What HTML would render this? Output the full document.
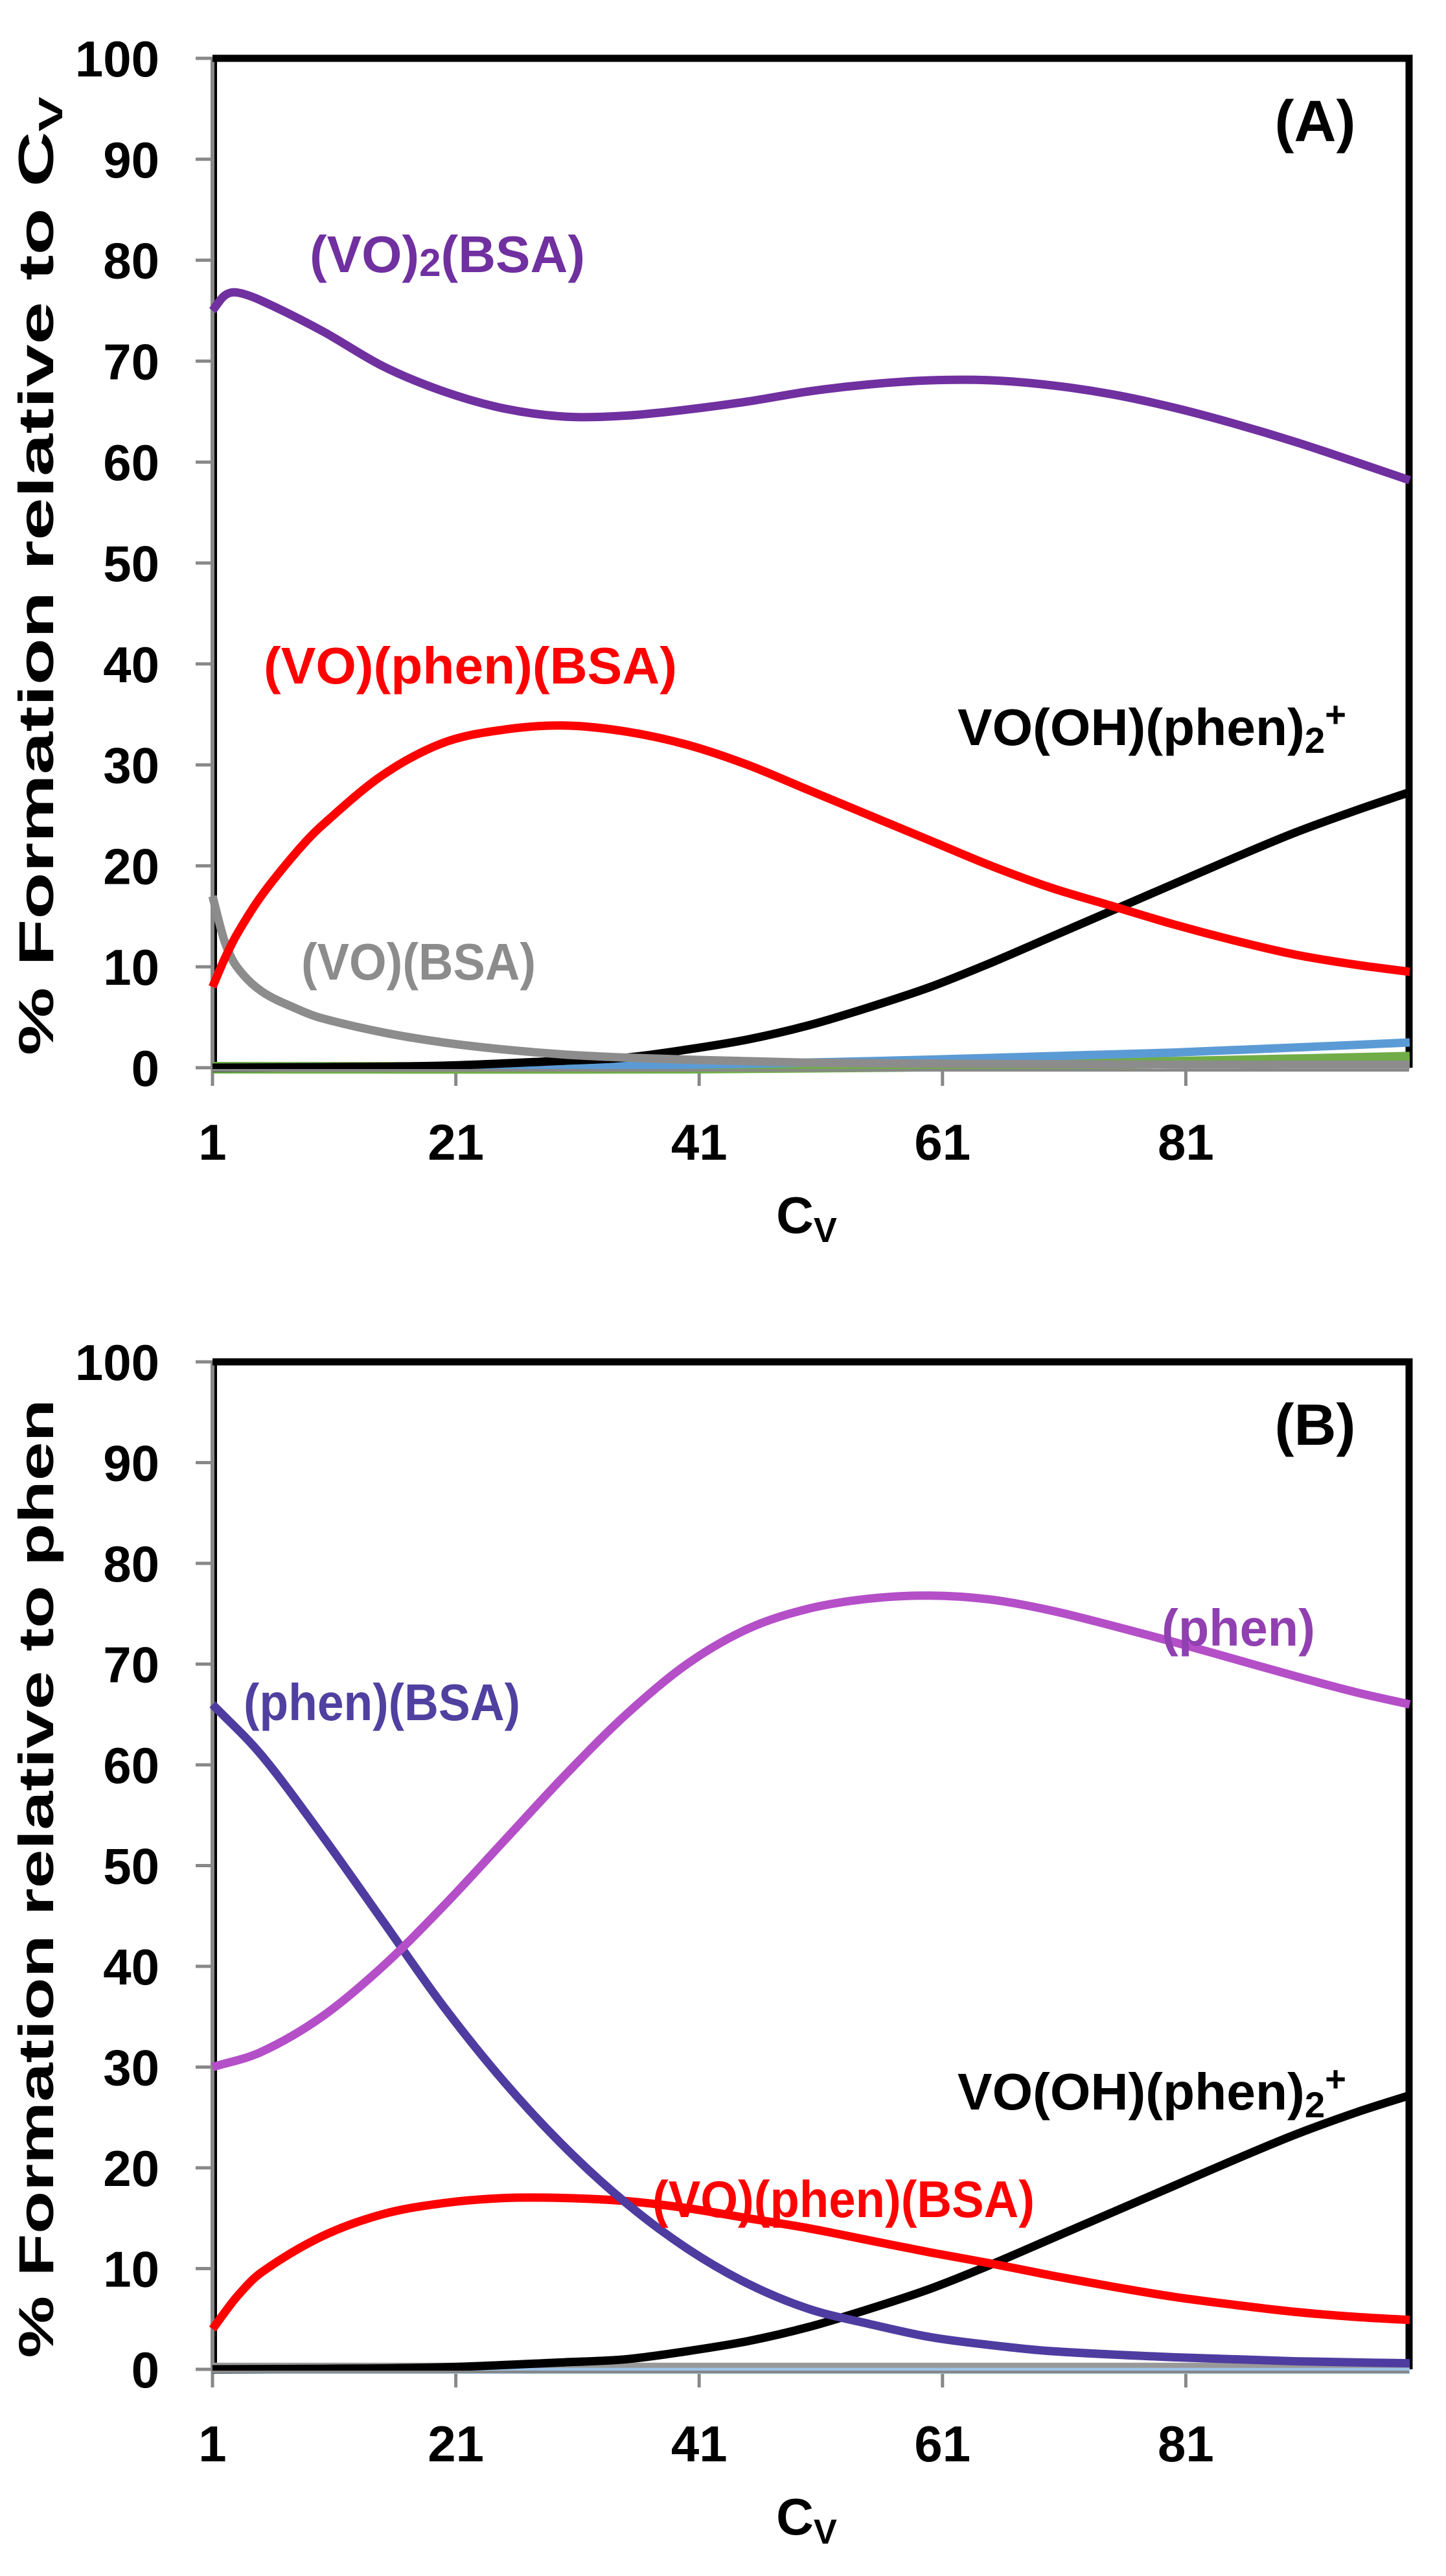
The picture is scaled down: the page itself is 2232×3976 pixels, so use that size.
<!DOCTYPE html>
<html><head><meta charset="utf-8"><style>
html,body{margin:0;padding:0;background:#fff;}
svg{display:block;}
text{font-family:"Liberation Sans",sans-serif;font-weight:bold;}
</style></head>
<body>
<svg id="chart" width="2232" height="3976" viewBox="0 0 2232 3976" xmlns="http://www.w3.org/2000/svg">
<rect width="2232" height="3976" fill="#fff"/>
<g id="panelA"></g>
<g id="panelB"></g>
</svg>
<script>
// shared data
const yTicks = [0,10,20,30,40,50,60,70,80,90,100];
const xTicks = [1,21,41,61,81];

// Panel A series
const aX_purple = [1,2,3,5,10,15,20,25,30,35,40,45,50,55,60,65,70,75,80,85,90,95,99.4];
const aY_purple = [75,76.5,76.8,76,73,69.5,67,65.3,64.5,64.6,65.2,66,67,67.7,68.1,68.1,67.6,66.7,65.4,63.8,62,60,58.2];
const aX_red = [1,2,3,5,8,10,15,20,25,30,35,40,45,50,55,60,65,70,75,80,85,90,95,99.4];
const aY_red = [8,10.8,13.2,17,21.5,24,29,32.2,33.5,33.9,33.3,32,30,27.5,25,22.5,20,17.8,16,14.2,12.6,11.2,10.2,9.5];
const aX_black = [1,10,20,30,35,40,45,50,55,60,65,70,75,80,85,90,95,99.4];
const aY_black = [0,0.05,0.2,0.7,1,1.8,2.8,4.2,6,8,10.4,13,15.6,18.2,20.8,23.3,25.5,27.3];
const aX_gray = [1,2,3,5,8,10,15,20,25,30,35,40,50,60,80,99.4];
const aY_gray = [17,12.5,10,7.6,5.8,4.9,3.5,2.5,1.8,1.3,1,0.8,0.5,0.4,0.3,0.3];
const aX_blue = [1,40,60,80,99.4];
const aY_blue = [0,0.3,0.8,1.5,2.5];
const aX_green = [1,40,60,80,99.4];
const aY_green = [0,0,0.2,0.5,1];
const aX_orange = [1,13];
const aY_orange = [0.2,0.2];

// Panel B series
const bX_phen = [1,5,10,15,20,25,30,35,40,45,50,55,60,65,70,75,80,85,90,95,99.4];
const bY_phen = [30,31.5,35,40,46,52.5,59,65,70,73.5,75.5,76.5,76.8,76.4,75.3,73.8,72.2,70.5,68.8,67.2,66];
const bX_phenBSA = [1,5,10,15,20,25,30,35,40,45,50,55,60,65,70,80,90,99.4];
const bY_phenBSA = [66,61,53,44.5,36,28.5,22,16.5,12,8.5,6,4.5,3.2,2.4,1.8,1.2,0.8,0.6];
const bX_red = [1,3,5,10,15,20,25,30,35,40,45,50,55,60,65,70,75,80,85,90,95,99.4];
const bY_red = [4,7.2,9.6,13.2,15.4,16.5,17,17,16.7,16,15,14,12.8,11.6,10.5,9.3,8.2,7.2,6.4,5.7,5.2,4.9];
const bX_black = [1,10,20,30,35,40,45,50,55,60,65,70,75,80,85,90,95,99.4];
const bY_black = [0,0.05,0.2,0.7,1,1.8,2.8,4.2,6,8,10.4,13,15.6,18.2,20.8,23.3,25.5,27.2];
const bX_gray = [1,99.4];
const bY_gray = [0.4,0.4];
const bX_lblue = [1,99.4];
const bY_lblue = [0,0];

const NS = "http://www.w3.org/2000/svg";
function mk(parent, tag, attrs, txt){
  const e = document.createElementNS(NS, tag);
  for (const k in attrs) e.setAttribute(k, attrs[k]);
  if (txt !== undefined) e.textContent = txt;
  parent.appendChild(e);
  return e;
}
// cubic Hermite in data space with finite-difference tangents (handles uneven spacing)
function pathFrom(xs, ys, sx, sy){
  const n = xs.length;
  const m = xs.map((x,i)=>{
    if (n<2) return 0;
    if (i===0) return (ys[1]-ys[0])/(xs[1]-xs[0]);
    if (i===n-1) return (ys[n-1]-ys[n-2])/(xs[n-1]-xs[n-2]);
    return (ys[i+1]-ys[i-1])/(xs[i+1]-xs[i-1]);
  });
  let d = "M"+sx(xs[0])+","+sy(ys[0]);
  for (let i=0;i<n-1;i++){
    const h = xs[i+1]-xs[i];
    const c1x = xs[i]+h/3, c1y = ys[i]+m[i]*h/3;
    const c2x = xs[i+1]-h/3, c2y = ys[i+1]-m[i+1]*h/3;
    d += " C"+sx(c1x)+","+sy(c1y)+" "+sx(c2x)+","+sy(c2y)+" "+sx(xs[i+1])+","+sy(ys[i+1]);
  }
  return d;
}

function panel(g, top, zero, yTitle, tag, series, labels){
  const left = 328, right = 2175;
  const sx = v => left + (v-1)*18.78;
  const sy = v => zero - v*(zero-top)/100;
  yTicks.forEach(t=>{
    const tk = mk(g,"line",{x1:left-26,x2:left,y1:sy(t),y2:sy(t),stroke:"#888","stroke-width":5});
    
    
    const lb = mk(g,"text",{x:246,y:sy(t)+28,"text-anchor":"end","font-size":78,fill:"#000"}, String(t));
    
    
  });
  xTicks.forEach(t=>{
    const tk = mk(g,"line",{x1:sx(t),x2:sx(t),y1:zero,y2:zero+28,stroke:"#888","stroke-width":5});
    
    
    const lb = mk(g,"text",{x:sx(t),y:zero+142,"text-anchor":"middle","font-size":78,fill:"#000"}, String(t));
    
    
  });
  const ya = mk(g,"line",{x1:left,x2:left,y1:top,y2:zero,stroke:"#888","stroke-width":6});
  
  
  const yb = mk(g,"line",{x1:left+5,x2:left+5,y1:top,y2:zero,stroke:"#000","stroke-width":4});
  
  
  const tb = mk(g,"path",{d:"M"+left+","+top+" H"+right+" V"+zero,fill:"none",stroke:"#000","stroke-width":11});
  
  
  series.forEach(s=>{
    const p = mk(g,"path",{d:pathFrom(s.x,s.y,sx,sy),fill:"none",stroke:s.c,"stroke-width":s.w||13,"stroke-linejoin":"round"});
    
    
  });
  const xa = mk(g,"line",{x1:left,x2:right,y1:zero+4,y2:zero+4,stroke:"#888","stroke-width":4});
  
  
  const yt = mk(g,"text",{transform:"translate(82,"+((top+zero)/2+20)+") rotate(-90)","text-anchor":"middle","font-size":76,fill:"#000",textLength:1480,lengthAdjust:"spacingAndGlyphs"});
  yt.innerHTML = yTitle;
  
  
  const xt = mk(g,"text",{x:1245,y:zero+255,"text-anchor":"middle","font-size":80,fill:"#000"});
  xt.innerHTML = 'C<tspan font-size="54" dy="14">V</tspan>';
  
  
  const pt = mk(g,"text",{x:2030,y:top+128,"text-anchor":"middle","font-size":90,fill:"#000"}, tag);
  
  
  labels.forEach(l=>{
    const t = mk(g,"text",{x:l.x,y:l.y,"font-size":80,fill:l.c,textLength:l.w,lengthAdjust:"spacingAndGlyphs"});
    t.innerHTML = l.t;
    
    
  });
}

const vooh = 'VO(OH)(phen)<tspan font-size="56" dy="12">2</tspan><tspan font-size="56" dy="-40">+</tspan>';

panel(document.getElementById('panelA'), 90, 1648,
  '% Formation relative to C<tspan font-size="52" dy="14">V</tspan>', '(A)',
  [
    {x:aX_orange,y:aY_orange,c:"#ED7D31",n:"series-orange",w:6},
    {x:aX_green,y:aY_green,c:"#70AD47",n:"series-green",w:18},
    {x:aX_blue,y:aY_blue,c:"#5B9BD5",n:"series-blue"},
    {x:aX_black,y:aY_black,c:"#000",n:"series-vo-oh-phen2"},
    {x:aX_gray,y:aY_gray,c:"#8C8C8C",n:"series-vo-bsa"},
    {x:aX_red,y:aY_red,c:"#FF0000",n:"series-vo-phen-bsa"},
    {x:aX_purple,y:aY_purple,c:"#7030A0",n:"series-vo2-bsa"}
  ],
  [
    {x:478,y:420,c:"#7030A0",w:425,t:'(VO)<tspan font-size="60" dy="6">2</tspan><tspan dy="-6">(BSA)</tspan>',n:"label-vo2-bsa"},
    {x:407,y:1055,c:"#FF0000",w:638,t:'(VO)(phen)(BSA)',n:"label-vo-phen-bsa"},
    {x:1478,y:1150,c:"#000",w:600,t:vooh,n:"label-vo-oh-phen2"},
    {x:465,y:1512,c:"#8C8C8C",w:362,t:'(VO)(BSA)',n:"label-vo-bsa"}
  ]);

panel(document.getElementById('panelB'), 2102, 3657,
  '% Formation relative to phen', '(B)',
  [
    {x:bX_lblue,y:bY_lblue,c:"#9DC3E6",n:"series-light-blue",w:14},
    {x:bX_gray,y:bY_gray,c:"#999",n:"series-gray",w:8},
    {x:bX_black,y:bY_black,c:"#000",n:"series-vo-oh-phen2"},
    {x:bX_red,y:bY_red,c:"#FF0000",n:"series-vo-phen-bsa"},
    {x:bX_phenBSA,y:bY_phenBSA,c:"#4F3CA0",n:"series-phen-bsa"},
    {x:bX_phen,y:bY_phen,c:"#B44FC8",n:"series-phen"}
  ],
  [
    {x:1793,y:2540,c:"#9040B0",w:237,t:'(phen)',n:"label-phen"},
    {x:376,y:2655,c:"#5040A0",w:427,t:'(phen)(BSA)',n:"label-phen-bsa"},
    {x:1478,y:3256,c:"#000",w:600,t:vooh,n:"label-vo-oh-phen2"},
    {x:1007,y:3422,c:"#FF0000",w:590,t:'(VO)(phen)(BSA)',n:"label-vo-phen-bsa"}
  ]);
</script>
</body></html>
